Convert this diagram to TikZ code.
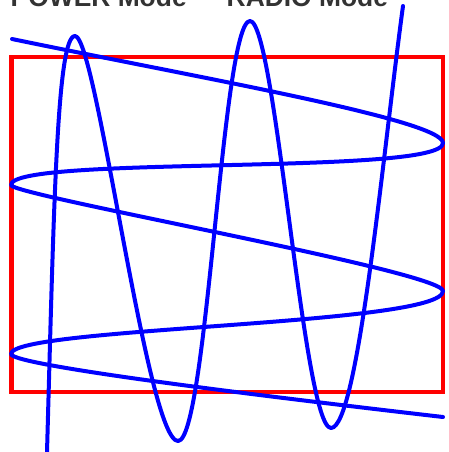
\documentclass[tikz,border=0pt]{standalone}
\usepackage{fontspec}
\setmainfont{Liberation Sans}
\definecolor{txtgray}{HTML}{333333}
\definecolor{pureblue}{RGB}{0,0,255}
\definecolor{purered}{RGB}{255,0,0}
\begin{document}
\begin{tikzpicture}[x=1pt,y=-1pt,
  label/.style={font=\bfseries\fontsize{26.4}{30}\selectfont, text=txtgray, inner sep=0pt, anchor=base west},
  frame/.style={draw=purered, line width=4.3pt},
  wave/.style={draw=pureblue, line width=4pt, line cap=round, line join=round}]
\useasboundingbox (0,0) rectangle (448,452);
\clip (0,0) rectangle (448,452);
\node[label] (power) at (10.5,6.5) {POWER Mode};
\node[label] (radio) at (226.5,6.5) {RADIO Mode};
\draw[frame] (11.5,57) rectangle (443,392);
% vertical wave
\coordinate (v0) at (47,452);
\coordinate (v1) at (75,36);
\coordinate (v2) at (178,441);
\coordinate (v3) at (250,21);
\coordinate (v4) at (331,428);
\coordinate (v5) at (403,6);
\draw[wave] (v0) .. controls (54,202) and (57,36) .. (v1)
  .. controls (96.6,36) and (147,441) .. (v2)
  .. controls (207,441) and (222.3,21) .. (v3)
  .. controls (275.6,21) and (303.4,428) .. (v4)
  .. controls (358,428) and (382.6,156) .. (v5);
% horizontal wave
\coordinate (h0) at (12,39);
\coordinate (h1) at (443,143);
\coordinate (h2) at (11,185);
\coordinate (h3) at (443,291);
\coordinate (h4) at (11,354);
\coordinate (h5) at (443,417);
\draw[wave] (h0) .. controls (200,78) and (443,120) .. (h1)
  .. controls (443,176) and (11,155) .. (h2)
  .. controls (11,195.3) and (443,271.5) .. (h3)
  .. controls (443,325.5) and (11,326.9) .. (h4)
  .. controls (11,366) and (293,399.6) .. (h5);
\end{tikzpicture}
\end{document}
